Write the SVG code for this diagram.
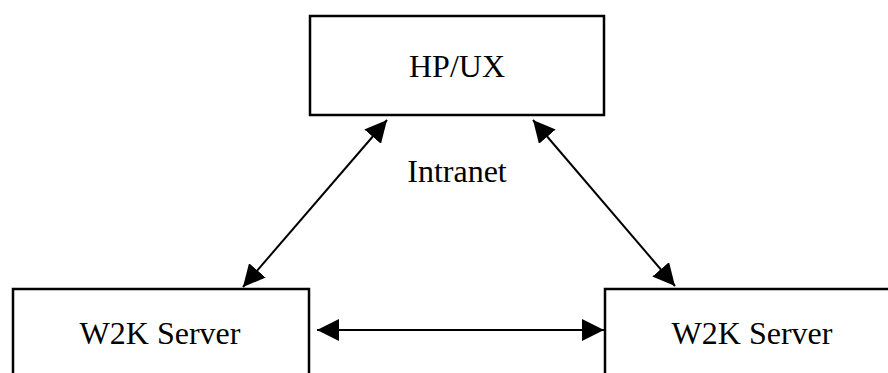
<svg xmlns="http://www.w3.org/2000/svg" width="888" height="373" viewBox="0 0 888 373">
<style>
.box{fill:#fff;stroke:#000;stroke-width:2.5}
.lbl{font-family:"Liberation Serif","Times New Roman",serif;font-size:32px;fill:#000;text-anchor:middle}
.con{stroke:#000;stroke-width:2;fill:none;marker-end:url(#ah);marker-start:url(#ah)}
</style>
<defs>
<marker id="ah" markerUnits="userSpaceOnUse" markerWidth="22" markerHeight="22" viewBox="0 0 20 20" refX="20" refY="10" orient="auto-start-reverse">
<path d="M0,0 L20,10 L0,20 Z" fill="#000"/>
</marker>
</defs>
<rect width="888" height="373" fill="#fff"/>
<g id="hpux">
<rect class="box" x="310" y="16" width="294" height="99"/>
<text class="lbl" x="457" y="77">HP/UX</text>
</g>
<g id="w2k-left">
<rect class="box" x="13" y="289" width="296" height="100"/>
<text class="lbl" x="160" y="344">W2K Server</text>
</g>
<g id="w2k-right">
<rect class="box" x="605" y="289" width="300" height="100"/>
<text class="lbl" x="752" y="344">W2K Server</text>
</g>
<g id="intranet">
<text class="lbl" x="457" y="182">Intranet</text>
</g>
<g id="connectors">
<line class="con" x1="387" y1="120" x2="243" y2="287"/>
<line class="con" x1="533" y1="120" x2="675" y2="286"/>
<line class="con" x1="317" y1="330" x2="604" y2="330"/>
</g>
</svg>
